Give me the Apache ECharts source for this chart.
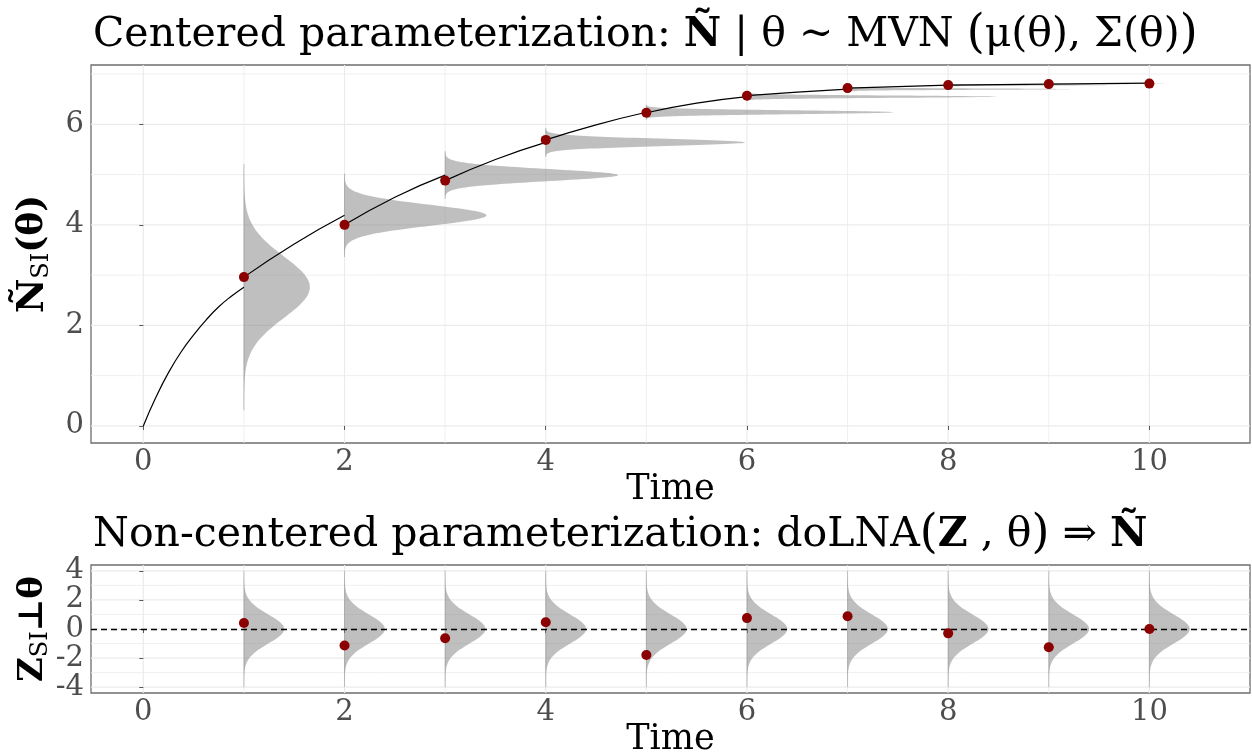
<!DOCTYPE html>
<html><head><meta charset="utf-8">
<script src="https://cdn.jsdelivr.net/npm/echarts@6/dist/echarts.min.js"></script>
<style>html,body{margin:0;padding:0;background:#fff}#c{width:1252px;height:754px}</style>
</head><body><div id="c"></div>
<script>
// ---- data ----
const times = [1, 2, 3, 4, 5, 6, 7, 8, 9, 10];
const obsN = [2.96, 4.00, 4.88, 5.69, 6.23, 6.57, 6.72, 6.78, 6.80, 6.81];
const densMean = [2.76, 4.19, 4.99, 5.64, 6.24, 6.55, 6.70, 6.78, 6.80, 6.82];
const densHalfRange = [2.45, 0.83, 0.475, 0.285, 0.15, 0.09, 0.055, 0.035, 0.02, 0.01];
const densPeakWidth = [0.655, 1.41, 1.72, 1.98, 2.45, 2.48, 2.21, 1.57, 0.80, 0.15];
const curveT0 = [0, 0.125, 0.25, 0.375, 0.5, 0.625, 0.75, 0.875, 1];
const curveN0 = [0, 0.57, 1.06, 1.47, 1.81, 2.11, 2.37, 2.58, 2.76];
const segMid = [3.62, 4.55, 5.30, 5.99, 6.42, 6.64, 6.75, 6.79, 6.81];
const obsZ = [0.41, -1.13, -0.64, 0.47, -1.79, 0.75, 0.88, -0.30, -1.25, 0.00];
const zMean = [0, 0, 0, 0, 0, 0, 0, 0, 0, 0];
const zHalfRange = [4, 4, 4, 4, 4, 4, 4, 4, 4, 4];
const zPeakWidth = [0.4, 0.4, 0.4, 0.4, 0.4, 0.4, 0.4, 0.4, 0.4, 0.4];
const xTickLabels = [0, 2, 4, 6, 8, 10];
const xGridMajor = [0, 2, 4, 6, 8, 10];
const xGridMinor = [1, 3, 5, 7, 9];
const yTopTicks = [0, 2, 4, 6];
const yTopMinor = [1, 3, 5, 7];
const yBotTicks = [-4, -2, 0, 2, 4];
const yBotMinor = [-3, -1, 1, 3];

const FONT = 'DejaVu Serif';
const GRID_C = '#EBEBEB';
const FILL = 'rgba(127,127,127,0.5)';

function gridLineSeries(idx, vals, dir, width) {
  return {
    type: 'custom', xAxisIndex: idx, yAxisIndex: idx, silent: true, z: 0,
    data: vals.map(v => [v]),
    renderItem(params, api) {
      const cs = params.coordSys;
      const v = api.value(0);
      let shape;
      if (dir === 'x') {
        const px = api.coord([v, 0])[0];
        shape = { x1: px, y1: cs.y, x2: px, y2: cs.y + cs.height };
      } else {
        const py = api.coord([0, v])[1];
        shape = { x1: cs.x, y1: py, x2: cs.x + cs.width, y2: py };
      }
      return { type: 'line', shape, style: { stroke: GRID_C, lineWidth: width } };
    }
  };
}

function densitySeries(idx, t, m, h, w) {
  return {
    type: 'custom', xAxisIndex: idx, yAxisIndex: idx, silent: true, z: 2,
    data: t.map((tt, i) => [tt, m[i], h[i], w[i]]),
    renderItem(params, api) {
      const tt = api.value(0), mm = api.value(1), hh = api.value(2), ww = api.value(3);
      const sd = hh / 4, n = 120, pts = [];
      for (let i = 0; i <= n; i++) {
        const y = mm - hh + 2 * hh * i / n;
        const z = (y - mm) / sd;
        pts.push(api.coord([tt + ww * Math.exp(-0.5 * z * z), y]));
      }
      pts.push(api.coord([tt, mm + hh]));
      pts.push(api.coord([tt, mm - hh]));
      const a = api.coord([tt, mm - hh]), b = api.coord([tt, mm + hh]);
      return { type: 'group', children: [
        { type: 'polygon', shape: { points: pts }, style: { fill: FILL } },
        { type: 'line', shape: { x1: a[0], y1: a[1], x2: b[0], y2: b[1] }, style: { stroke: 'rgba(127,127,127,0.45)', lineWidth: 1 } }
      ]};
    }
  };
}

const series = [];
series.push(gridLineSeries(0, xGridMinor, 'x', 0.8));
series.push(gridLineSeries(0, xGridMajor, 'x', 1.2));
series.push(gridLineSeries(0, yTopMinor, 'y', 0.8));
series.push(gridLineSeries(0, yTopTicks, 'y', 1.2));
series.push(gridLineSeries(1, xGridMinor, 'x', 0.8));
series.push(gridLineSeries(1, xGridMajor, 'x', 1.2));
series.push(gridLineSeries(1, yBotMinor, 'y', 0.8));
series.push(gridLineSeries(1, yBotTicks, 'y', 1.2));

series.push(densitySeries(0, times, densMean, densHalfRange, densPeakWidth));
series.push(densitySeries(1, times, zMean, zHalfRange, zPeakWidth));

// curve segments
const seg0 = curveT0.map((t, i) => [t, curveN0[i]]);
const segs = [seg0];
for (let k = 1; k < times.length; k++) {
  segs.push([[times[k - 1], obsN[k - 1]], [times[k - 1] + 0.5, segMid[k - 1]], [times[k], densMean[k]]]);
}
segs.forEach(s => series.push({
  type: 'line', xAxisIndex: 0, yAxisIndex: 0, data: s, smooth: 0.5,
  symbol: 'none', silent: true, z: 3,
  lineStyle: { color: '#000', width: 1.2 }
}));

series.push({
  type: 'scatter', xAxisIndex: 0, yAxisIndex: 0, z: 4, silent: true,
  data: times.map((t, i) => [t, obsN[i]]), symbolSize: 10,
  itemStyle: { color: '#8B0000', opacity: 1 }
});

// dashed zero line
series.push({
  type: 'custom', xAxisIndex: 1, yAxisIndex: 1, silent: true, z: 3, data: [[0]],
  renderItem(params, api) {
    const cs = params.coordSys;
    const py = Math.round(api.coord([0, api.value(0)])[1]) + 0.5;
    return { type: 'line', shape: { x1: cs.x, y1: py, x2: cs.x + cs.width, y2: py },
      style: { stroke: '#000', lineWidth: 1.3, lineDash: [6, 4] } };
  }
});
series.push({
  type: 'scatter', xAxisIndex: 1, yAxisIndex: 1, z: 4, silent: true,
  data: times.map((t, i) => [t, obsZ[i]]), symbolSize: 10,
  itemStyle: { color: '#8B0000', opacity: 1 }
});

const axisLineStyle = { show: false };
const tickStyle = { show: true, length: 4, lineStyle: { color: '#555', width: 1 } };
const labelStyle = { color: '#4D4D4D', fontFamily: FONT, fontSize: 29 };

function xAxis(idx) {
  return {
    type: 'value', gridIndex: idx, min: -0.52, max: 11.0,
    axisLine: axisLineStyle, splitLine: { show: false },
    axisTick: Object.assign({ customValues: xTickLabels }, tickStyle),
    axisLabel: Object.assign({ customValues: xTickLabels, margin: 5 }, labelStyle),
    name: 'Time', nameLocation: 'middle', nameGap: 29, nameMoveOverlap: false,
    nameTextStyle: { fontFamily: FONT, fontSize: 35, color: '#000', verticalAlign: 'top' }
  };
}

const richTitle = {
  n: { fontFamily: FONT, fontSize: 41, fontWeight: 'normal', color: '#000' },
  b: { fontFamily: FONT, fontSize: 41, fontWeight: 'bold', color: '#000' },
  p: { fontFamily: FONT, fontSize: 46, fontWeight: 'normal', color: '#000' }
};

const option = {
  animation: false,
  backgroundColor: '#fff',
  title: [
    { left: 88, top: 7, text: '{n|Centered parameterization: }{b|N\u0303}{n| | θ ~ MVN }{p|(}{n|μ(θ), Σ(θ)}{p|)}',
      textStyle: { fontWeight: 'normal', rich: richTitle } },
    { left: 88, top: 507, text: '{n|Non-centered parameterization: doLNA}{p|(}{b|Z}{n| , θ}{p|)}{n| ⇒ }{b|N\u0303}',
      textStyle: { fontWeight: 'normal', rich: richTitle } }
  ],
  grid: [
    { left: 91, right: 2, top: 65, height: 378, show: true, borderColor: '#6E6E6E', borderWidth: 1.3, backgroundColor: 'transparent', outerBoundsMode: 'none', containLabel: false },
    { left: 91, right: 2, top: 565, height: 128, show: true, borderColor: '#6E6E6E', borderWidth: 1.3, backgroundColor: 'transparent', outerBoundsMode: 'none', containLabel: false }
  ],
  xAxis: [xAxis(0), xAxis(1)],
  yAxis: [
    { type: 'value', gridIndex: 0, min: -0.34, max: 7.18,
      axisLine: axisLineStyle, splitLine: { show: false },
      axisTick: Object.assign({ customValues: yTopTicks }, tickStyle),
      axisLabel: Object.assign({ customValues: yTopTicks, margin: 7 }, labelStyle),
      name: '{b|N\u0303}{s|SI}{n|(θ)}', nameLocation: 'middle', nameRotate: 90, nameGap: 36,
      nameMoveOverlap: false,
      nameTextStyle: { rich: {
        b: { fontFamily: FONT, fontSize: 38, fontWeight: 'bold', color: '#000', lineHeight: 44 },
        s: { fontFamily: FONT, fontSize: 24, color: '#000', lineHeight: 24, padding: [18, 0, 0, 0] },
        n: { fontFamily: FONT, fontSize: 36, fontWeight: 'bold', color: '#000', lineHeight: 44 }
      } } },
    { type: 'value', gridIndex: 1, min: -4.4, max: 4.4,
      axisLine: axisLineStyle, splitLine: { show: false },
      axisTick: Object.assign({ customValues: yBotTicks }, tickStyle),
      axisLabel: Object.assign({ customValues: yBotTicks, margin: 7 }, labelStyle),
      name: '{b|Z}{s|SI}{n|⊥θ}', nameLocation: 'middle', nameRotate: 90, nameGap: 38,
      nameMoveOverlap: false,
      nameTextStyle: { rich: {
        b: { fontFamily: FONT, fontSize: 34, fontWeight: 'bold', color: '#000', lineHeight: 40 },
        s: { fontFamily: FONT, fontSize: 24, color: '#000', lineHeight: 24, padding: [16, 0, 0, 0] },
        n: { fontFamily: FONT, fontSize: 34, fontWeight: 'bold', color: '#000', lineHeight: 40 }
      } } }
  ],
  series
};
const chart = echarts.init(document.getElementById('c'), null, { renderer: 'canvas' });
chart.setOption(option);
</script></body></html>
